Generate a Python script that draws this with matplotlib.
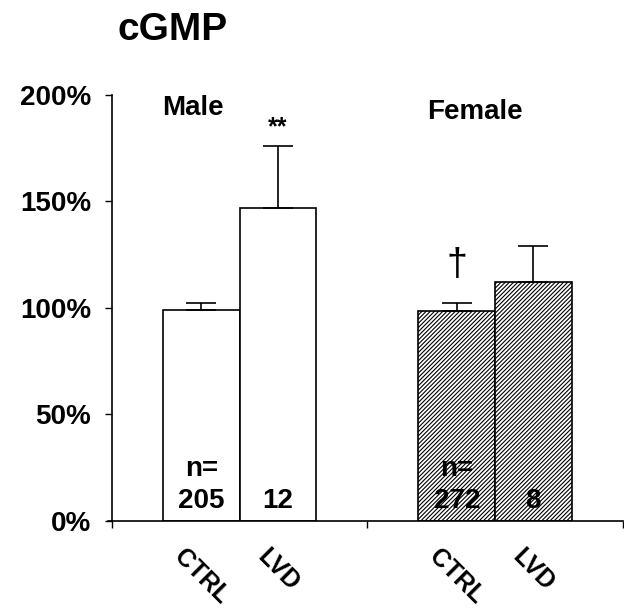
import matplotlib
matplotlib.use("Agg")
from matplotlib import pyplot as plt

plt.rcParams['font.family'] = ['Liberation Sans', 'DejaVu Sans']
plt.rcParams['font.weight'] = 'bold'
plt.rcParams['hatch.linewidth'] = 0.8

# data
groups = ['Male', 'Female']
conditions = ['CTRL', 'LVD']
male_vals = [99, 147]
male_err = [3.5, 29]
female_vals = [98.5, 112]
female_err = [4, 17]
male_n = ['205', '12']
female_n = ['272', '8']

centers_m = [0.35, 0.65]
centers_f = [1.35, 1.65]
w = 0.3

fig = plt.figure(figsize=(6.24, 6.10), dpi=100)
ax = fig.add_axes([0.1795, 0.1459, 0.8185, 0.6984])

ax.bar(centers_m, male_vals, width=w, color='white', edgecolor='black',
       linewidth=1.2, yerr=[[0, 0], male_err], capsize=11,
       error_kw=dict(elinewidth=1.2, capthick=1.2, ecolor='black'))
ax.bar(centers_f, female_vals, width=w, color='white', edgecolor='black',
       linewidth=1.2, hatch='/' * 8, yerr=[[0, 0], female_err], capsize=11,
       error_kw=dict(elinewidth=1.2, capthick=1.2, ecolor='black'))

ax.set_xlim(0, 2)
ax.set_ylim(0, 200)
ax.set_yticks([0, 50, 100, 150, 200])
ax.set_yticklabels(['0%', '50%', '100%', '150%', '200%'], fontsize=20, fontweight='bold')
ax.tick_params(axis='y', direction='out', length=5, width=1, pad=10)

ax.set_xticks(centers_m + centers_f)
ax.set_xticklabels(conditions + conditions, rotation=-45, ha='center', va='top',
                   fontsize=18, fontweight='bold')
ax.tick_params(axis='x', which='major', length=0, pad=17)
ax.set_xticks([0, 1, 2], minor=True)
ax.tick_params(axis='x', which='minor', direction='out', length=5, width=1)

ax.spines['top'].set_visible(False)
ax.spines['right'].set_visible(False)
ax.spines['left'].set_linewidth(1.2)
ax.spines['bottom'].set_linewidth(1.2)
ax.spines['bottom'].set_bounds(-0.015, 2)

# group labels
ax.text(0.196, 194, groups[0], ha='left', va='center', fontsize=20, fontweight='bold')
ax.text(1.42, 192, groups[1], ha='center', va='center', fontsize=20, fontweight='bold')

# significance marks
ax.text(centers_m[1], 185, '**', ha='center', va='center', fontsize=18, fontweight='bold')
ax.text(centers_f[0], 120, '\u2020', ha='center', va='center', fontsize=27, fontweight='normal')

# n labels
for x, n in zip(centers_m, male_n):
    ax.text(x, 3.5, n, ha='center', va='bottom', fontsize=20, fontweight='bold')
for x, n in zip(centers_f, female_n):
    ax.text(x, 3.5, n, ha='center', va='bottom', fontsize=20, fontweight='bold')
ax.text(centers_m[0], 18.5, 'n=', ha='center', va='bottom', fontsize=20, fontweight='bold')
ax.text(centers_f[0], 18.5, 'n=', ha='center', va='bottom', fontsize=20, fontweight='bold')

fig.text(0.189, 0.951, 'cGMP', ha='left', va='center', fontsize=28, fontweight='bold')

fig.savefig('out.png', dpi=100)
